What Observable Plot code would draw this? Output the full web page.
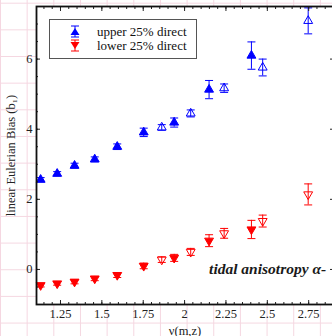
<!DOCTYPE html>
<html><head><meta charset="utf-8">
<script src="https://cdn.jsdelivr.net/npm/d3@7"></script>
<script src="https://cdn.jsdelivr.net/npm/@observablehq/plot@0.6"></script>
<style>
html,body{margin:0;padding:0;}
body{width:332px;height:336px;overflow:hidden;background-color:#fff;
 background-image:linear-gradient(to right,#f5d7e1 1px,transparent 1px),linear-gradient(to bottom,#f5d7e1 1px,transparent 1px);
 background-size:26.67px 26.67px;background-position:0 2.7px;}
#wrap{position:relative;width:332px;height:336px;}
#legend{position:absolute;left:49px;top:19px;width:146px;height:38px;border:1.5px solid #555;background:#fff;
 font-family:"Liberation Serif",serif;font-size:13px;color:#111;}
#legend .row{position:absolute;left:0;height:13px;line-height:13px;}
#legend svg{position:absolute;left:18px;top:0;}
#legend span{position:absolute;left:47px;top:0;white-space:nowrap;}
</style></head>
<body><div id="wrap"></div>
<script>
// ---- data ----
const nuDirect = [1.13, 1.23, 1.335, 1.457, 1.593, 1.753, 1.937, 2.148, 2.404];
const nuOther = [1.862, 2.037, 2.239, 2.472, 2.747];
const upperDirect = [2.56, 2.73, 2.96, 3.14, 3.50, 3.91, 4.19, 5.13, 6.10];
const upperDirectErr = [0.06, 0.06, 0.07, 0.07, 0.08, 0.12, 0.13, 0.26, 0.39];
const upperOther = [4.05, 4.45, 5.17, 5.76, 7.09];
const upperOtherErr = [0.08, 0.10, 0.12, 0.24, 0.37];
const lowerDirect = [-0.45, -0.40, -0.35, -0.26, -0.16, 0.10, 0.33, 0.82, 1.14];
const lowerDirectErr = [0.05, 0.05, 0.06, 0.06, 0.07, 0.08, 0.10, 0.17, 0.26];
const lowerOther = [0.28, 0.50, 1.03, 1.38, 2.14];
const lowerOtherErr = [0.08, 0.10, 0.14, 0.17, 0.30];
const legendLabels = ["upper 25% direct", "lower 25% direct"];
const xMajor = [1.25, 1.5, 1.75, 2, 2.25, 2.5, 2.75];
const xMinor = d3.range(23, 58).map(i => i / 20);
const yMajor = [0, 2, 4, 6];
const yMinor = d3.range(-2, 16).map(i => i / 2);
const noteText = ["tidal anisotropy α-"];
const noteNu = [2.148];
const noteB = [0.0];

const BLUE = "#0000ff", RED = "#ff0000";
const groups = [
  {nu: nuDirect, b: upperDirect, err: upperDirectErr, color: BLUE, filled: true, rotate: 0},
  {nu: nuOther, b: upperOther, err: upperOtherErr, color: BLUE, filled: false, rotate: 0},
  {nu: nuDirect, b: lowerDirect, err: lowerDirectErr, color: RED, filled: true, rotate: 180},
  {nu: nuOther, b: lowerOther, err: lowerOtherErr, color: RED, filled: false, rotate: 180}
];
const rows = groups.flatMap(g => g.nu.map((nu, i) => ({nu, b: g.b[i], err: g.err[i], color: g.color, filled: g.filled, rotate: g.rotate})));
const notes = noteText.map((t, i) => ({label: t, nu: noteNu[i], b: noteB[i]}));

const cap = {draw(ctx) { ctx.moveTo(-4, 0); ctx.lineTo(4, 0); }};
const font = "Liberation Serif";

const chart = Plot.plot({
  width: 332, height: 336,
  marginLeft: 36, marginRight: -1, marginTop: 6, marginBottom: 32,
  style: {background: "transparent", fontFamily: font, fontSize: "12.5px", color: "#222"},
  x: {domain: [1.105, 2.9]},
  y: {domain: [-1, 7.5]},
  color: {type: "identity"},
  marks: [
    Plot.frame({fill: "white", stroke: null}),
    Plot.dot(rows, {x: "nu", y: "b", symbol: "triangle", r: 3.3, rotate: "rotate",
      fill: d => d.filled ? d.color : "white", stroke: "color", strokeWidth: 1}),
    Plot.ruleX(rows, {x: "nu", y1: d => d.b - d.err, y2: d => d.b + d.err, stroke: "color", strokeWidth: 1}),
    Plot.dot(rows, {x: "nu", y: d => d.b + d.err, symbol: cap, fill: "none", stroke: "color", strokeWidth: 1}),
    Plot.dot(rows, {x: "nu", y: d => d.b - d.err, symbol: cap, fill: "none", stroke: "color", strokeWidth: 1}),
    Plot.text(notes, {x: "nu", y: "b", text: "label", textAnchor: "start", fontWeight: "bold", fontStyle: "italic", fontSize: 15.5, fill: "#1a1a1a"}),
    Plot.axisX({anchor: "bottom", ticks: xMajor, tickSize: -4, tickPadding: 9, tickFormat: d => String(d),
      label: "ν(m,z)", labelAnchor: "center", labelOffset: 30, labelArrow: "none"}),
    Plot.axisX({anchor: "bottom", ticks: xMinor, tickSize: -2, tickFormat: () => "", label: null}),
    Plot.axisX({anchor: "top", ticks: xMajor, tickSize: -4, tickFormat: () => "", label: null}),
    Plot.axisX({anchor: "top", ticks: xMinor, tickSize: -2, tickFormat: () => "", label: null}),
    Plot.axisY({anchor: "left", ticks: yMajor, tickSize: -4, tickPadding: 8, tickFormat: d => String(d),
      label: "linear Eulerian Bias (b₁)", labelAnchor: "center", labelOffset: 30, labelArrow: "none"}),
    Plot.axisY({anchor: "left", ticks: yMinor, tickSize: -2, tickFormat: () => "", label: null}),
    Plot.axisY({anchor: "right", ticks: yMajor, tickSize: -4, tickFormat: () => "", label: null}),
    Plot.axisY({anchor: "right", ticks: yMinor, tickSize: -2, tickFormat: () => "", label: null}),
    Plot.frame({stroke: "#111", strokeWidth: 1.8})
  ]
});
const wrap = document.getElementById("wrap");
wrap.appendChild(chart);

// legend
const legend = document.createElement("div");
legend.id = "legend";
const legendItems = [{color: BLUE, up: true, top: 5}, {color: RED, up: false, top: 19}];
legendItems.forEach((it, i) => {
  const row = document.createElement("div");
  row.className = "row";
  row.style.top = it.top + "px";
  row.style.width = "140px";
  const tri = it.up ? "M7,3 L11.5,10 L2.5,10 Z" : "M7,10 L11.5,3 L2.5,3 Z";
  row.innerHTML = `<svg width="14" height="13" viewBox="0 0 14 13"><path d="${tri}" fill="${it.color}"/>` +
    `<path d="M7,1 V12 M3,1 H11 M3,12 H11" stroke="${it.color}" stroke-width="1" fill="none"/></svg>` +
    `<span>${legendLabels[i]}</span>`;
  legend.appendChild(row);
});
wrap.appendChild(legend);
</script>
</body></html>
